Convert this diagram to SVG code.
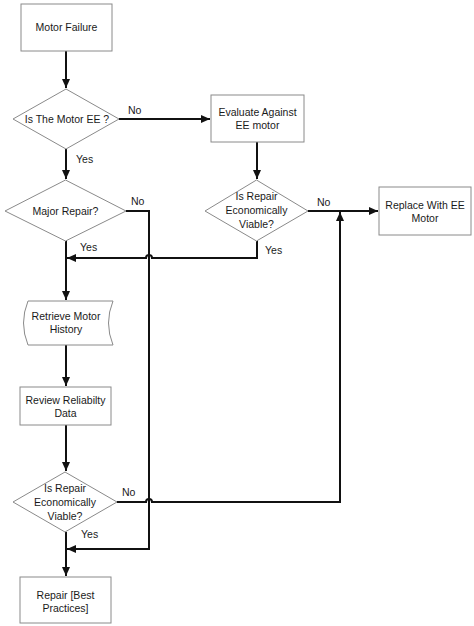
<svg xmlns="http://www.w3.org/2000/svg" width="474" height="626" viewBox="0 0 474 626">
<style>
.box{fill:#fff;stroke:#8a8a8a;stroke-width:1}
.t{font-family:"Liberation Sans",Arial,sans-serif;font-size:10.5px;fill:#1a1a1a;text-anchor:middle}
.l{font-family:"Liberation Sans",Arial,sans-serif;font-size:10.5px;fill:#1a1a1a}
.c{fill:none;stroke:#111;stroke-width:2}
</style>
<defs>
<marker id="ah" markerUnits="userSpaceOnUse" markerWidth="9" markerHeight="8" refX="9" refY="4" orient="auto">
<path d="M0,0 L9,4 L0,8 z" fill="#111"/>
</marker>
</defs>
<rect width="474" height="626" fill="#fff"/>
<g id="connectors">
<path class="c" d="M66,51 L66,88" marker-end="url(#ah)"/>
<path class="c" d="M119,119 L210,119" marker-end="url(#ah)"/>
<path class="c" d="M66,149 L66,179" marker-end="url(#ah)"/>
<path class="c" d="M126,211 L149,211 L149,549 L67,549" marker-end="url(#ah)"/>
<path class="c" d="M66,241 L66,300" marker-end="url(#ah)"/>
<path class="c" d="M257,142 L257,179" marker-end="url(#ah)"/>
<path class="c" d="M308,211 L378,211" marker-end="url(#ah)"/>
<path class="c" d="M257,241 L257,258 L152,258 A3,3 0 0 0 146,258 L67,258" marker-end="url(#ah)"/>
<path class="c" d="M66,345 L66,386" marker-end="url(#ah)"/>
<path class="c" d="M66,425 L66,471" marker-end="url(#ah)"/>
<path class="c" d="M117,502 L146,502 A3,3 0 0 1 152,502 L340,502 L340,212" marker-end="url(#ah)"/>
<path class="c" d="M66,532 L66,576" marker-end="url(#ah)"/>
<text class="l" x="128" y="114">No</text>
<text class="l" x="76" y="163">Yes</text>
<text class="l" x="131" y="205">No</text>
<text class="l" x="80" y="251">Yes</text>
<text class="l" x="317" y="206">No</text>
<text class="l" x="265" y="254">Yes</text>
<text class="l" x="122" y="496">No</text>
<text class="l" x="81" y="538">Yes</text>
</g>
<g id="motor-failure">
<rect class="box" x="21" y="4" width="91" height="47"/>
<text class="t" x="66.5" y="31">Motor Failure</text>
</g>
<g id="is-motor-ee">
<polygon class="box" points="66,89 119,119 66,149 13,119"/>
<text class="t" x="67" y="123">Is The Motor EE ?</text>
</g>
<g id="major-repair">
<polygon class="box" points="65.5,180 126,211 65.5,241 5,211"/>
<text class="t" x="65.5" y="215">Major Repair?</text>
</g>
<g id="evaluate">
<rect class="box" x="211" y="95" width="93" height="47"/>
<text class="t" x="257.5" y="116">Evaluate Against</text>
<text class="t" x="257.5" y="129">EE motor</text>
</g>
<g id="viable-1">
<polygon class="box" points="256.5,180 308,211 256.5,241 205,211"/>
<text class="t" x="256.5" y="200">Is Repair</text>
<text class="t" x="256.5" y="214">Economically</text>
<text class="t" x="256.5" y="228">Viable?</text>
</g>
<g id="replace">
<rect class="box" x="379" y="187" width="92" height="48"/>
<text class="t" x="425" y="209">Replace With EE</text>
<text class="t" x="425" y="222">Motor</text>
</g>
<g id="retrieve">
<path class="box" d="M28,301 L113,301 Q104,323 113,345 L28,345 Q19,323 28,301 Z"/>
<text class="t" x="66" y="320">Retrieve Motor</text>
<text class="t" x="66" y="333">History</text>
</g>
<g id="review">
<rect class="box" x="20" y="387" width="91" height="38"/>
<text class="t" x="65.5" y="404">Review Reliabilty</text>
<text class="t" x="65.5" y="417">Data</text>
</g>
<g id="viable-2">
<polygon class="box" points="65,472 117,502 65,532 13,502"/>
<text class="t" x="65" y="492">Is Repair</text>
<text class="t" x="65" y="506">Economically</text>
<text class="t" x="65" y="520">Viable?</text>
</g>
<g id="repair">
<rect class="box" x="20" y="577" width="91" height="46"/>
<text class="t" x="65.5" y="599">Repair [Best</text>
<text class="t" x="65.5" y="612">Practices]</text>
</g>
</svg>
